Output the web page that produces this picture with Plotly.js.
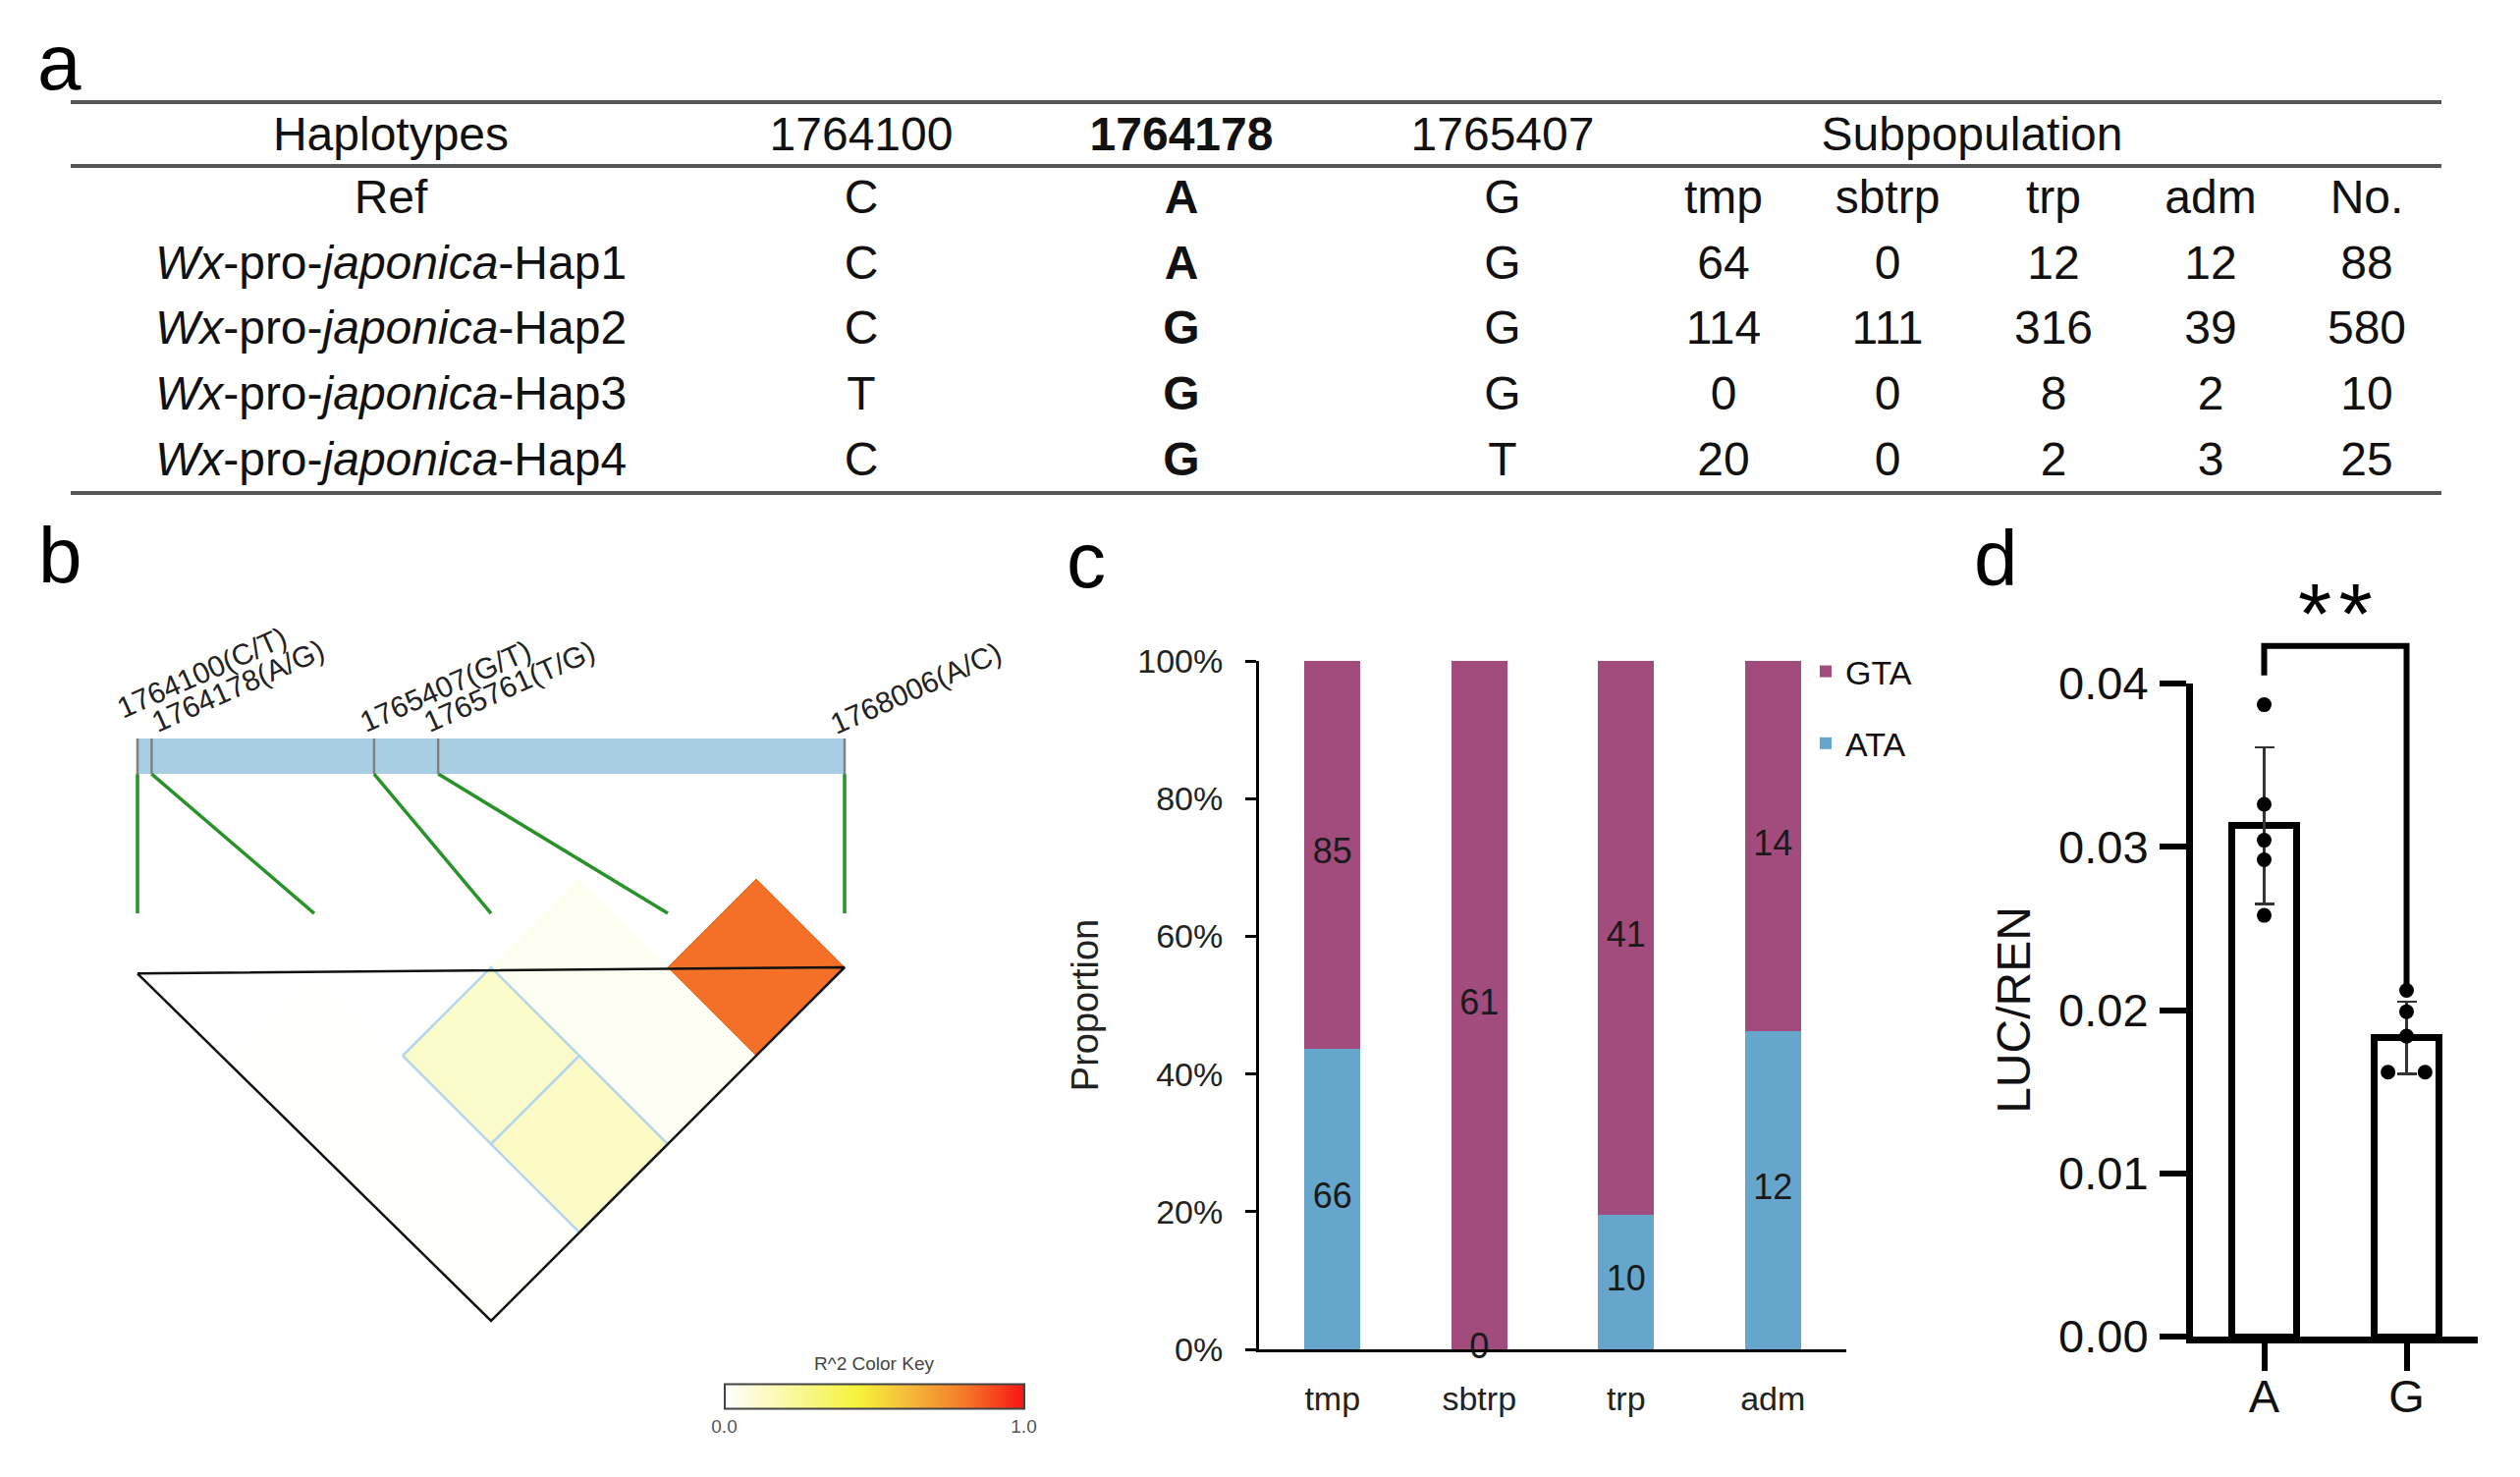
<!DOCTYPE html>
<html><head><meta charset="utf-8">
<script src="https://cdn.plot.ly/plotly-3.0.1.min.js"></script>
<style>html,body{margin:0;padding:0;background:#fff}#chart{width:2566px;height:1504px}</style>
</head><body><div id="chart"></div>
<script>
// ================= DATA =================
// Panel a: haplotype table
const hapNames = ['Ref','<i>Wx</i>-pro-<i>japonica</i>-Hap1','<i>Wx</i>-pro-<i>japonica</i>-Hap2','<i>Wx</i>-pro-<i>japonica</i>-Hap3','<i>Wx</i>-pro-<i>japonica</i>-Hap4'];
const snpIds = ['1764100','1764178','1765407'];
const allele1764100 = ['C','C','C','T','C'];
const allele1764178 = ['A','A','G','G','G'];
const allele1765407 = ['G','G','G','G','T'];
const subpopHeader = ['tmp','sbtrp','trp','adm','No.'];
const countTmp = [64,114,0,20];
const countSbtrp = [0,111,0,0];
const countTrp = [12,316,8,2];
const countAdm = [12,39,2,3];
const countNo = [88,580,10,25];

// Panel b: LD heatmap
const snpPos = [1764100,1764178,1765407,1765761,1768006];
const snpLabels = ['1764100(C/T)','1764178(A/G)','1765407(G/T)','1765761(T/G)','1768006(A/C)'];
const ldPairI = [0,0,0,0,1,1,1,2,2,3];
const ldPairJ = [1,2,3,4,2,3,4,3,4,4];
const ldR2    = [0.0,0.004,0.006,0.008,0.0,0.12,0.13,0.035,0.03,0.82];
const ldInBlock = [0,0,0,0,0,1,1,0,0,0];

// Panel c: stacked proportion bars
const subpops = ['tmp','sbtrp','trp','adm'];
const ataCounts = [66,0,10,12];
const gtaCounts = [85,61,41,14];

// Panel d: LUC/REN
const alleleGroups = ['A','G'];
const lucMean = [0.0313,0.0183];
const lucSD = [0.0048,0.0022];
const lucPointsA = [0.0387,0.0326,0.0304,0.0292,0.0258];
const lucPointsG = [0.0212,0.0199,0.0184,0.0162,0.0162];
const jitterA = [0,0,0,0,0];
const jitterG = [0,0,0,-0.13,0.13];

// ================= LAYOUT HELPERS =================
const W = 2566, H = 1504;
const px = v => v / W;
const py = v => 1 - v / H;
const FONT = 'Liberation Sans, Arial, sans-serif';
const traces = [];
const shapes = [];
const annotations = [];

// ---------- Panel a ----------
const colX = [398, 877, 1203, 1530, 1755, 1922, 2091, 2251, 2410];
const subpopTitleX = 2008;
const headerRow = 0.05;
const tblFont = {family: FONT, size: 48, color: '#111'};
function textTrace(xs, ys, texts, font) {
  traces.push({type:'scatter', mode:'text', x: xs, y: ys, text: texts, textposition:'middle center',
    textfont: font, xaxis:'x5', yaxis:'y5', hoverinfo:'skip', showlegend:false, cliponaxis:false});
}
textTrace([colX[0], colX[1], colX[2], colX[3], subpopTitleX], [0,0,0,0,0].map(v => v + headerRow),
  ['Haplotypes', snpIds[0], '<b>'+snpIds[1]+'</b>', snpIds[2], 'Subpopulation'], tblFont);
const rowIdx = hapNames.map((_, i) => i + 1);
textTrace(rowIdx.map(() => colX[0]), rowIdx, hapNames, tblFont);
textTrace(rowIdx.map(() => colX[1]), rowIdx, allele1764100, tblFont);
textTrace(rowIdx.map(() => colX[2]), rowIdx, allele1764178.map(a => '<b>'+a+'</b>'), tblFont);
textTrace(rowIdx.map(() => colX[3]), rowIdx, allele1765407, tblFont);
textTrace(subpopHeader.map((_, i) => colX[4+i]), subpopHeader.map(() => 1), subpopHeader, tblFont);
[countTmp, countSbtrp, countTrp, countAdm, countNo].forEach((arr, c) => {
  textTrace(arr.map(() => colX[4+c]), arr.map((_, i) => i + 2), arr.map(String), tblFont);
});
[104, 169, 502].forEach(yy => shapes.push({type:'line', xref:'paper', yref:'paper', x0:px(72), x1:px(2486), y0:py(yy), y1:py(yy), line:{color:'#555', width:4}}));

// ---------- Panel b ----------
const gMin = snpPos[0], gMax = snpPos[snpPos.length-1];
const gIdx = snpPos.map(p => (p - gMin) / (gMax - gMin) * (snpPos.length - 1));
const barBottom = 1.094, barTop = 1.294, greenEnd = 0.305;
shapes.push({type:'rect', xref:'x', yref:'y', x0:gIdx[0], x1:gIdx[gIdx.length-1], y0:barBottom, y1:barTop, fillcolor:'#A8CEE3', line:{width:0}, layer:'below'});
gIdx.forEach(g => shapes.push({type:'line', xref:'x', yref:'y', x0:g, x1:g, y0:barBottom, y1:barTop, line:{color:'#808080', width:2.5}}));
const gx = [], gy = [];
gIdx.forEach((g, k) => { gx.push(g, k, null); gy.push(barBottom, greenEnd, null); });
traces.push({type:'scatter', mode:'lines', x:gx, y:gy, line:{color:'#2A922A', width:3.5}, xaxis:'x', yaxis:'y', hoverinfo:'skip', showlegend:false});
const labelNudgeX = [-28, -8, -22, -22, -22];
const labelNudgeY = [12, -2, -2, -2, -4];
gIdx.forEach((g, k) => annotations.push({xref:'x', yref:'y', x:g, y:barTop, text:snpLabels[k], showarrow:false,
  textangle:-24, xanchor:'left', yanchor:'bottom', xshift:labelNudgeX[k], yshift:labelNudgeY[k], font:{family:FONT, size:30, color:'#222'}}));

const ldScale = [[0,'#FFFFFF'],[0.45,'#F5F23A'],[0.62,'#F5B83A'],[0.8,'#F47A28'],[1,'#F81414']];
function hex2rgb(h){return [parseInt(h.slice(1,3),16),parseInt(h.slice(3,5),16),parseInt(h.slice(5,7),16)];}
function scaleColor(v){
  for (let s = 1; s < ldScale.length; s++) {
    if (v <= ldScale[s][0]) {
      const [a0, c0] = ldScale[s-1], [a1, c1] = ldScale[s];
      const t = (v - a0) / (a1 - a0), A = hex2rgb(c0), B = hex2rgb(c1);
      return 'rgb(' + A.map((q, i) => Math.round(q + (B[i]-q)*t)).join(',') + ')';
    }
  }
  return ldScale[ldScale.length-1][1];
}
const cellCx = ldPairI.map((i, k) => (i + ldPairJ[k]) / 2);
const cellCy = ldPairI.map((i, k) => -(ldPairJ[k] - i - 1) / 2);
const order = ldR2.map((_, k) => k).sort((a, b) => ldInBlock[a] - ldInBlock[b]);
order.forEach(k => {
  const cx = cellCx[k], cy = cellCy[k], col = scaleColor(ldR2[k]);
  traces.push({type:'scatter', mode:'lines', x:[cx-0.5, cx, cx+0.5, cx, cx-0.5], y:[cy, cy+0.5, cy, cy-0.5, cy],
    fill:'toself', fillcolor:col, line: ldInBlock[k] ? {color:'#B4D6EC', width:2.5} : {color:col, width:1},
    xaxis:'x', yaxis:'y', hoverinfo:'skip', showlegend:false});
});
traces.push({type:'scatter', mode:'lines', x:[0, 4, 2, 0], y:[-0.035, 0, -2, -0.035], line:{color:'#111', width:2.5},
  xaxis:'x', yaxis:'y', hoverinfo:'skip', showlegend:false});
traces.push({type:'scatter', mode:'markers', x:cellCx, y:cellCy, xaxis:'x', yaxis:'y', hoverinfo:'skip', showlegend:false,
  marker:{color:ldR2, colorscale:ldScale, cmin:0, cmax:1, size:2, opacity:0, showscale:true,
    colorbar:{orientation:'h', x:px(890), xanchor:'center', y:py(1423), yanchor:'middle', len:305, lenmode:'pixels',
      thickness:25, thicknessmode:'pixels', outlinecolor:'#444', outlinewidth:2, tickvals:[0,1], ticktext:['0.0','1.0'],
      ticks:'', tickfont:{family:FONT, size:19, color:'#555'}, xpad:0, ypad:0,
      title:{text:'R^2 Color Key', side:'top', font:{family:FONT, size:19, color:'#444'}}}}});

// ---------- Panel c ----------
const totals = ataCounts.map((a, i) => a + gtaCounts[i]);
const ataFrac = ataCounts.map((a, i) => a / totals[i]);
const gtaFrac = gtaCounts.map((g, i) => g / totals[i]);
traces.push({type:'bar', name:'ATA', x:subpops, y:ataFrac, width:0.383, marker:{color:'#66A6CC'}, xaxis:'x2', yaxis:'y2', legendgroup:'ata', legendrank:2, hoverinfo:'skip'});
traces.push({type:'bar', name:'GTA', x:subpops, y:gtaFrac, width:0.383, marker:{color:'#A24B7D'}, xaxis:'x2', yaxis:'y2', legendgroup:'gta', legendrank:1, hoverinfo:'skip'});
traces.push({type:'scatter', mode:'text', x:subpops.concat(subpops),
  y:ataFrac.map(f => f/2).concat(gtaFrac.map((g, i) => ataFrac[i] + g/2)),
  text:ataCounts.concat(gtaCounts).map(String), textfont:{family:FONT, size:36, color:'#1a1a1a'},
  xaxis:'x2', yaxis:'y2', showlegend:false, hoverinfo:'skip', cliponaxis:false});

// ---------- Panel d ----------
traces.push({type:'bar', x:[0,1], y:lucMean, width:0.46, marker:{color:'#fff', line:{color:'#000', width:7}},
  error_y:{type:'data', array:lucSD, visible:true, color:'#333', thickness:2.5, width:10},
  xaxis:'x3', yaxis:'y3', showlegend:false, hoverinfo:'skip'});
traces.push({type:'scatter', mode:'markers', x:jitterA.map(j => 0 + j).concat(jitterG.map(j => 1 + j)),
  y:lucPointsA.concat(lucPointsG), marker:{color:'#000', size:15}, xaxis:'x3', yaxis:'y3', showlegend:false, hoverinfo:'skip', cliponaxis:false});
shapes.push({type:'path', xref:'x4', yref:'y4', path:'M0,0.0405 L0,0.0423 L1,0.0423 L1,0.0214', line:{color:'#000', width:6}});
annotations.push({xref:'x4', yref:'y4', x:0.5, y:0.0443, text:'*\u200A*', showarrow:false, font:{family:FONT, size:88, color:'#000'}, yanchor:'middle'});

// ---------- Panel labels ----------
[['a',60,64],['b',61,565],['c',1106,571],['d',2032,568]].forEach(([t, x, y]) =>
  annotations.push({xref:'paper', yref:'paper', x:px(x), y:py(y), text:t, showarrow:false, xanchor:'center', yanchor:'middle', font:{family:FONT, size:80, color:'#000'}}));

const hidden = {visible:false, showgrid:false, zeroline:false, fixedrange:true};
const layout = {
  width:W, height:H, margin:{l:0, r:0, t:0, b:0}, paper_bgcolor:'#fff', plot_bgcolor:'rgba(0,0,0,0)',
  font:{family:FONT, color:'#111'}, barmode:'stack', showlegend:true,
  legend:{x:px(1839), y:py(655), xanchor:'left', yanchor:'top', traceorder:'grouped', tracegroupgap:26,
    font:{family:FONT, size:34, color:'#111'}, bgcolor:'rgba(0,0,0,0)'},
  // panel b
  xaxis:Object.assign({domain:[px(50), px(1050)], range:[(50-140)/180, (1050-140)/180]}, hidden),
  yaxis:Object.assign({domain:[py(1400), py(600)], range:[(985-1400)/180, (985-600)/180]}, hidden),
  // panel c
  xaxis2:{domain:[px(1282), px(1880)], range:[-0.5, 3.5], anchor:'y2', showline:true, linecolor:'#000', linewidth:3,
    ticks:'outside', ticklen:28, tickcolor:'rgba(0,0,0,0)', showgrid:false, zeroline:false, ticklabelstandoff:-10,
    tickfont:{family:FONT, size:34, color:'#222'}},
  yaxis2:{domain:[py(1374), py(673)], range:[0, 1], anchor:'x2', showline:true, linecolor:'#000', linewidth:3,
    ticks:'outside', ticklen:11, tickwidth:3, tickcolor:'#000', dtick:0.2, tickformat:'.0%', showgrid:false, zeroline:false,
    ticklabelstandoff:16, tickfont:{family:FONT, size:34, color:'#222'},
    title:{text:'Proportion', standoff:28, font:{family:FONT, size:38, color:'#222'}}},
  // panel d
  xaxis3:{domain:[px(2233), px(2523)], range:[-0.5, 1.5], anchor:'y3', showline:true, linecolor:'#000', linewidth:7,
    tickvals:[0,1], ticktext:alleleGroups, ticks:'outside', ticklen:28, tickwidth:6, tickcolor:'#000',
    showgrid:false, zeroline:false, ticklabelstandoff:-14, tickfont:{family:FONT, size:47, color:'#111'}},
  yaxis3:{domain:[py(1361), py(696)], range:[0, 0.04], anchor:'x3', showline:true, linecolor:'#000', linewidth:7,
    dtick:0.01, tickformat:'.2f', ticks:'outside', ticklen:27, tickwidth:6, tickcolor:'#000',
    showgrid:false, zeroline:false, ticklabelstandoff:2, tickfont:{family:FONT, size:47, color:'#111'},
    title:{text:'LUC/REN', standoff:16, font:{family:FONT, size:48, color:'#111'}}},
  xaxis4:Object.assign({domain:[px(2233), px(2523)], range:[-0.5, 1.5], anchor:'y4'}, hidden),
  yaxis4:Object.assign({domain:[py(1361), py(560)], range:[0, 801/16625], anchor:'x4'}, hidden),
  // panel a table
  xaxis5:Object.assign({domain:[0, 1], range:[0, W], anchor:'y5'}, hidden),
  yaxis5:Object.assign({domain:[py(520), py(90)], range:[(520-138)/66.8, (90-138)/66.8], anchor:'x5'}, hidden),
  shapes:shapes, annotations:annotations
};
Plotly.newPlot('chart', traces, layout, {staticPlot:true, displayModeBar:false});
</script></body></html>
